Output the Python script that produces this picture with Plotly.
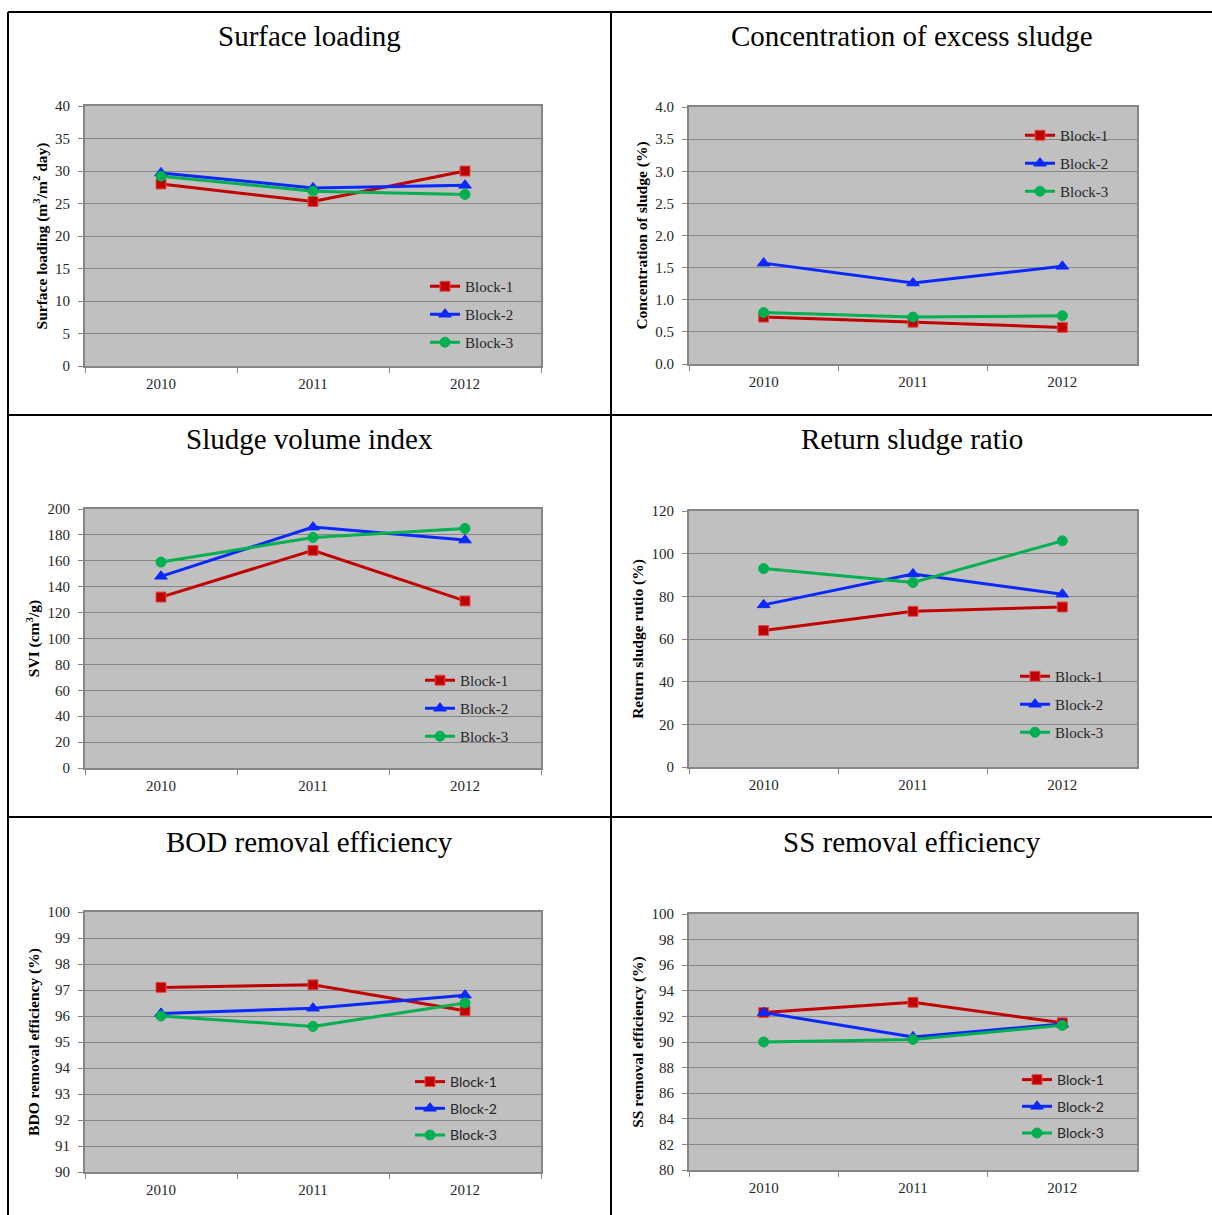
import plotly.graph_objects as go

# Years on the category axis
years = ["2010", "2011", "2012"]
blocks = ["Block-1", "Block-2", "Block-3"]

# Surface loading (m3/m2 day)
surface_b1 = [28.0, 25.3, 30.0]
surface_b2 = [29.7, 27.4, 27.8]
surface_b3 = [29.2, 26.9, 26.4]

# Concentration of excess sludge (%)
conc_b1 = [0.73, 0.65, 0.57]
conc_b2 = [1.57, 1.26, 1.52]
conc_b3 = [0.80, 0.73, 0.75]

# Sludge volume index (cm3/g)
svi_b1 = [132, 168, 129]
svi_b2 = [148, 186, 176]
svi_b3 = [159, 178, 185]

# Return sludge ratio (%)
rsr_b1 = [64, 73, 75]
rsr_b2 = [76, 90.5, 81]
rsr_b3 = [93, 86.5, 106]

# BOD removal efficiency (%)
bod_b1 = [97.1, 97.2, 96.2]
bod_b2 = [96.1, 96.3, 96.8]
bod_b3 = [96.0, 95.6, 96.5]

# SS removal efficiency (%)
ss_b1 = [92.3, 93.1, 91.5]
ss_b2 = [92.3, 90.4, 91.4]
ss_b3 = [90.0, 90.2, 91.3]

W, H = 1212, 1215
SERIF = "Liberation Serif, Times New Roman, serif"
SANS = "Lato, Carlito, Calibri, sans-serif"

colors = ["#C00000", "#0A28FF", "#00B050"]
edge = ["#E05050", "#0A28FF", "#00B050"]
symbols = ["square", "triangle-up", "circle"]

panels = [
    dict(title="Surface loading", ytitle="Surface loading (m<sup>3</sup>/m<sup>2</sup> day)",
         data=[surface_b1, surface_b2, surface_b3], yr=[0, 40], dt=5, fmt="d",
         box=(85, 541, 106, 366), leg=(425, 270), lfont=SERIF, lsize=15),
    dict(title="Concentration of excess sludge", ytitle="Concentration of sludge (%)",
         data=[conc_b1, conc_b2, conc_b3], yr=[0, 4], dt=0.5, fmt=".1f",
         box=(689, 1137, 107, 364), leg=(1020, 119), lfont=SERIF, lsize=15),
    dict(title="Sludge volume index", ytitle="SVI (cm<sup>3</sup>/g)",
         data=[svi_b1, svi_b2, svi_b3], yr=[0, 200], dt=20, fmt="d",
         box=(85, 541, 509, 768), leg=(420, 664), lfont=SERIF, lsize=15),
    dict(title="Return sludge ratio", ytitle="Return sludge rutio (%)",
         data=[rsr_b1, rsr_b2, rsr_b3], yr=[0, 120], dt=20, fmt="d",
         box=(689, 1137, 511, 767), leg=(1015, 660), lfont=SERIF, lsize=15),
    dict(title="BOD removal efficiency", ytitle="BDO removal efficiency (%)",
         data=[bod_b1, bod_b2, bod_b3], yr=[90, 100], dt=1, fmt="d",
         box=(85, 541, 912, 1172), leg=(410, 1066), lfont=SANS, lsize=14),
    dict(title="SS removal efficiency", ytitle="SS removal efficiency (%)",
         data=[ss_b1, ss_b2, ss_b3], yr=[80, 100], dt=2, fmt="d",
         box=(689, 1137, 914, 1170), leg=(1017, 1064), lfont=SANS, lsize=14),
]

# Table cells: title centre x and title middle y
cell_cx = [309.5, 912, 309.5, 912, 309.5, 912]
title_y = [36, 36, 439, 439, 842, 842]

fig = go.Figure()
layout = dict(
    width=W, height=H, margin=dict(l=0, r=0, t=0, b=0, autoexpand=False),
    paper_bgcolor="white", plot_bgcolor="#C0C0C0", showlegend=True,
)
annotations = []

for i, p in enumerate(panels):
    n = i + 1
    sfx = "" if n == 1 else str(n)
    x0, x1, y0, y1 = p["box"]
    for j in range(3):
        fig.add_trace(go.Scatter(
            x=years, y=p["data"][j], name=blocks[j], mode="lines+markers",
            line=dict(color=colors[j], width=3),
            marker=dict(symbol=symbols[j], size=10 if j != 1 else 11, color=colors[j],
                        line=dict(color=edge[j], width=1)),
            xaxis="x" + sfx, yaxis="y" + sfx, legend="legend" + sfx,
            legendgroup=f"g{n}_{j}",
        ))
    layout["xaxis" + sfx] = dict(
        domain=[x0 / W, x1 / W], anchor="y" + sfx, type="category",
        range=[-0.5, 2.5], tickson="boundaries", ticks="outside", ticklen=5,
        tickcolor="#868686", showline=True, linecolor="#868686", linewidth=2,
        mirror=True, showgrid=False, automargin=False, ticklabelstandoff=3,
        tickfont=dict(family=SERIF, size=15, color="#262626"),
    )
    layout["yaxis" + sfx] = dict(
        domain=[1 - y1 / H, 1 - y0 / H], anchor="x" + sfx, range=p["yr"],
        dtick=p["dt"], tick0=p["yr"][0], tickformat=p["fmt"], ticks="outside", ticklen=5,
        tickcolor="#868686", showline=True, linecolor="#868686", linewidth=2,
        mirror=True, showgrid=True, gridcolor="#868686", gridwidth=1, zeroline=False,
        automargin=False, ticklabelstandoff=5,
        tickfont=dict(family=SERIF, size=15, color="#262626"),
        title=dict(text="<b>" + p["ytitle"] + "</b>", standoff=4,
                   font=dict(family=SERIF, size=15.5, color="black")),
    )
    lx, ly = p["leg"]
    layout["legend" + sfx] = dict(
        x=lx / W, y=1 - ly / H, xanchor="left", yanchor="top",
        bgcolor="rgba(0,0,0,0)", borderwidth=0, itemwidth=30,
        tracegroupgap=5.5, traceorder="grouped",
        font=dict(family=p["lfont"], size=p["lsize"], color="#262626"),
    )
    annotations.append(dict(
        text=p["title"], xref="paper", yref="paper",
        x=cell_cx[i] / W, y=1 - title_y[i] / H,
        xanchor="center", yanchor="middle", showarrow=False,
        font=dict(family=SERIF, size=29, color="black"),
    ))

# Table ruling that frames the six panels
line_style = dict(color="black", width=2)
shapes = [
    dict(type="line", xref="paper", yref="paper", x0=8 / W, x1=1, y0=1 - 12 / H, y1=1 - 12 / H, line=line_style),
    dict(type="line", xref="paper", yref="paper", x0=8 / W, x1=1, y0=1 - 415 / H, y1=1 - 415 / H, line=line_style),
    dict(type="line", xref="paper", yref="paper", x0=8 / W, x1=1, y0=1 - 817 / H, y1=1 - 817 / H, line=line_style),
    dict(type="line", xref="paper", yref="paper", x0=8 / W, x1=8 / W, y0=1 - 12 / H, y1=0, line=line_style),
    dict(type="line", xref="paper", yref="paper", x0=611 / W, x1=611 / W, y0=1 - 12 / H, y1=0, line=line_style),
]

layout["annotations"] = annotations
layout["shapes"] = shapes
fig.update_layout(**layout)
fig.write_html("out.html")
